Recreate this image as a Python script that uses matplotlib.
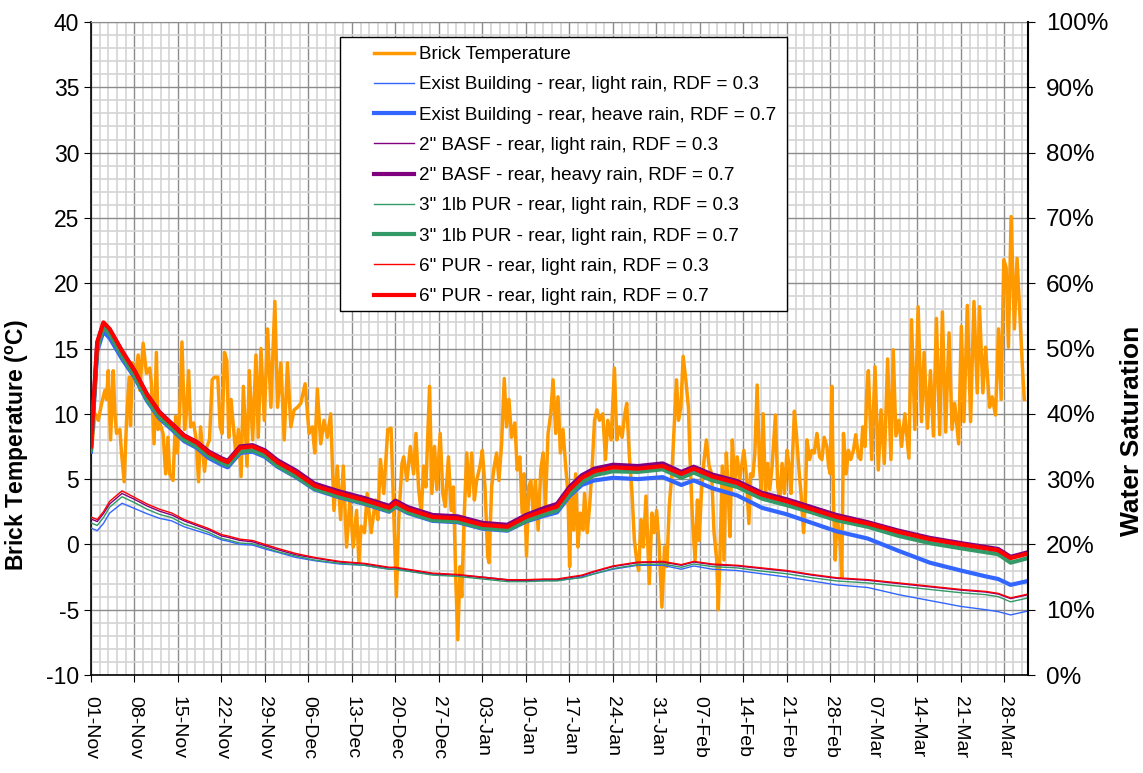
import matplotlib
matplotlib.use("Agg")
import matplotlib.pyplot as plt
from matplotlib.ticker import MultipleLocator, PercentFormatter
from matplotlib.patches import Rectangle

plt.rcParams['font.family'] = ['Liberation Sans', 'DejaVu Sans']
plt.rcParams['axes.unicode_minus'] = False

# --- data (x = days since 01-Nov) ---
week_days = [0, 7, 14, 21, 28, 35, 42, 49, 56, 63, 70, 77, 84, 91, 98, 105, 112, 119, 126, 133, 140, 147]
week_labels = ['01-Nov', '08-Nov', '15-Nov', '22-Nov', '29-Nov', '06-Dec', '13-Dec', '20-Dec', '27-Dec',
               '03-Jan', '10-Jan', '17-Jan', '24-Jan', '31-Jan', '07-Feb', '14-Feb', '21-Feb', '28-Feb',
               '07-Mar', '14-Mar', '21-Mar', '28-Mar']

brick_day = [0.11, 0.64, 1.18, 1.71, 2.24, 2.51, 2.78, 3.15, 3.58, 3.85, 4.11, 4.65, 4.91, 5.34, 5.72,
             6.14, 6.36, 6.68, 7.05, 7.59, 7.85, 8.39, 8.92, 9.46, 9.72, 10.15, 10.52, 10.79, 11.06,
             11.59, 12.02, 12.39, 12.66, 13.20, 13.62, 13.89, 14.26, 14.64, 15.06, 15.33, 15.71, 16.03,
             16.51, 16.93, 17.31, 17.63, 18.00, 18.27, 18.64, 19.07, 19.50, 19.87, 20.41, 20.78, 21.10,
             21.48, 21.85, 22.17, 22.54, 22.92, 23.34, 23.72, 24.15, 24.52,
             25.11, 25.48, 26.02, 26.55, 26.92, 27.35, 27.89, 28.42, 28.95, 29.59, 30.02, 30.56, 31.09,
             31.62, 32.16, 32.69, 33.23, 33.76, 34.46, 35.10, 35.63, 36.01, 36.43, 36.97, 37.50, 38.04,
             38.57, 39.10, 39.64, 40.17, 40.60, 41.13, 41.67, 42.20, 42.74, 43.11, 43.48, 44.02, 44.45,
             45.09, 45.78, 46.16, 46.58, 47.12, 47.76, 48.29, 48.72, 49.15, 49.52, 50.05,
             50.32, 50.86, 51.39, 51.92, 52.30, 52.73, 53.15, 53.53, 53.90, 54.49, 54.86, 55.29, 55.66,
             56.20, 56.62, 57.00, 57.53, 57.96, 58.33, 58.71, 59.03, 59.40, 59.67, 60.04, 60.47, 60.85,
             61.27, 61.70, 62.07, 62.61, 62.98, 63.41, 63.84, 64.05, 64.48, 64.90, 65.28, 65.65, 66.08,
             66.51, 66.88, 67.26, 67.68, 68.22, 68.59, 69.02, 69.39, 69.71, 70.09, 70.46, 70.78, 71.16,
             71.53, 71.96, 72.38, 72.76, 73.13, 73.56, 73.99, 74.36,
             74.79, 75.16, 75.54, 75.96, 76.39, 76.76, 77.03, 77.30, 77.67, 77.99, 78.37, 78.74, 79.17,
             79.43, 79.86, 80.24, 80.66, 81.04, 81.41, 81.84, 82.37, 82.80, 83.17, 83.71, 84.24, 84.62,
             85.04, 85.47, 85.85, 86.22, 86.65, 87.07, 87.45, 87.82, 88.14, 88.52, 88.89, 89.32, 89.85,
             90.28, 90.65, 91.03, 91.45, 91.88, 92.31, 92.68, 93.06, 93.48, 93.86, 94.23, 94.55, 94.93,
             95.30, 95.73, 96.15, 96.37, 96.80, 97.22, 97.60, 97.86, 98.29, 98.67, 99.04, 99.47, 99.89,
             100.27, 100.70, 100.96, 101.23, 101.60, 101.87, 102.25, 102.57, 102.83, 103.21, 103.58,
             104.01, 104.38, 104.70, 105.08, 105.45, 105.88, 106.14, 106.52, 106.84, 107.21, 107.59,
             107.85, 108.17, 108.55, 108.92, 109.24, 109.62, 110.15, 110.53, 110.85, 111.22, 111.59,
             112.02, 112.34, 112.66, 113.20, 113.52, 113.89, 114.26, 114.69, 114.96, 115.23, 115.65,
             116.03, 116.40, 116.83, 117.26, 117.63, 118.00, 118.43, 118.70, 118.97, 119.23, 119.50,
             119.77, 120.03, 120.30, 120.57, 120.83, 121.10, 121.53, 121.90, 122.28, 122.70, 123.08,
             123.51, 123.88, 124.20, 124.57, 124.84,
             125.11, 125.64, 126.18, 126.71, 127.14, 127.67, 128.21, 128.74, 129.11, 129.54, 130.02,
             130.45, 130.98, 131.63, 132.05, 132.59, 133.12, 133.66, 134.08, 134.62, 135.10, 135.58,
             136.06, 136.59, 137.02, 137.55, 138.09, 138.57, 139.00, 139.64, 140.07, 140.49, 141.03,
             141.56, 142.10, 142.63, 143.00, 143.54, 143.97, 144.61, 145.03, 145.57, 146.05, 146.48,
             146.90, 147.28, 147.65, 148.08, 148.61, 149.04, 149.57, 149.95, 150.21]
brick_temp = [7.4, 10.0, 9.5, 10.8, 11.8, 11.1, 13.3, 8.0, 13.3, 10.0, 8.5, 8.8, 7.0, 4.8, 9.5,
              12.8, 9.1, 13.9, 12.6, 14.5, 11.8, 15.4, 13.1, 13.5, 12.3, 7.7, 14.7, 8.8, 9.3,
              8.5, 5.4, 8.2, 5.4, 4.9, 9.8, 7.0, 10.0, 15.5, 8.8, 10.0, 13.3, 9.0,
              9.3, 8.0, 4.8, 9.0, 7.0, 5.6, 7.5, 8.0, 12.6, 12.8, 12.8, 9.0, 8.5,
              14.7, 14.1, 8.2, 11.1, 9.0, 6.7, 8.8, 5.2, 12.1,
              6.0, 13.3, 8.0, 14.5, 8.2, 15.0, 9.5, 16.5, 10.5, 18.6, 10.5, 13.9, 8.0,
              13.9, 9.0, 10.3, 10.5, 10.8, 12.3, 8.5, 9.0, 7.0, 11.9, 7.7, 9.5, 8.2,
              10.0, 2.6, 6.0, 1.9, 6.0, -0.2, 3.4, -0.2, 2.6, -1.4, 1.4, 0.9, 3.9,
              0.9, 3.4, 1.9, 6.5, 3.9, 8.8, 8.9, 2.4, -4.0, 1.9, 6.2,
              6.7, 4.9, 7.5, 5.4, 8.5, 4.2, 2.4, 6.0, 4.4, 12.1, 3.9, 7.5, 4.2,
              8.5, 3.9, 2.9, 6.7, 2.6, 4.4, -2.7, -7.3, -1.7, -4.0, 1.9, 7.0, 3.7,
              7.0, 3.4, 4.9, 6.0, 7.2, 4.4, -0.9, -1.4, 4.4, 6.0, 7.0, 4.9, 7.7,
              12.7, 9.0, 11.1, 8.2, 9.3, 5.7, 6.7, 2.4, 5.4, -0.9, 4.4, 4.9, 2.4,
              4.9, 1.1, 5.7, 7.0, 2.9, 8.5, 10.0, 12.6,
              8.5, 11.3, 7.0, 8.8, 6.0, 3.9, -1.7, 4.4, 1.1, 5.4, -0.2, 2.4, 1.1,
              3.9, 0.9, 2.9, 6.0, 9.5, 10.3, 9.5, 10.0, 6.5, 9.5, 8.0, 13.5, 8.0,
              9.0, 8.2, 9.8, 10.8, 6.7, 3.9, 0.3, -1.2, -2.0, 1.9, -0.2, 3.7, -3.0,
              2.4, 0.9, 2.6, -0.2, -4.8, -0.2, -1.7, 2.9, 5.4, 9.0, 12.6, 9.5, 10.5,
              14.4, 12.6, 10.5, 7.0, 1.9, -1.2, 3.4, 0.3, 4.4, 6.5, 8.0, 6.0, 5.4,
              0.9, -1.2, -5.0, -0.7, 6.0, -1.2, 7.0, 3.9, 0.6, 8.0, 4.7,
              6.7, 4.9, 6.0, 7.2, 5.4, 1.6, 5.4, 5.2, 7.0, 12.2, 6.0,
              4.2, 10.0, 3.9, 6.2, 4.2, 6.0, 9.9, 4.4, 3.4, 6.2, 3.9,
              7.2, 6.0, 3.9, 10.2, 8.5, 6.0, 3.9, 0.9, 3.4, 8.0, 6.5,
              7.2, 7.0, 8.5, 6.7, 6.5, 8.2, 7.5, 6.0, 5.4, 12.1, 3.2,
              -1.2, 1.9, 1.4, 0.1, -2.5, 8.5, 5.4, 7.2, 6.5, 7.2, 8.4,
              6.7, 6.5, 9.0, 7.5, 11.6,
              13.3, 6.5, 13.6, 5.7, 10.3, 6.2, 14.2, 6.5, 14.9, 8.3, 9.5,
              7.5, 10.0, 6.6, 17.2, 8.8, 18.2, 9.4, 14.7, 8.9, 13.3, 8.3,
              17.3, 8.4, 17.8, 8.6, 16.2, 8.8, 10.8, 7.7, 16.7, 9.4, 18.3,
              9.4, 18.6, 11.6, 18.2, 11.6, 15.1, 10.5, 11.3, 9.9, 16.5, 11.1,
              21.8, 21.2, 15.1, 25.1, 16.5, 21.9, 16.7, 13.1, 11.1]

# water saturation (%), right axis
sat_day = [0, 1, 2, 3, 5, 7, 9, 11, 13, 15, 17, 19, 21, 22, 24, 26, 28, 30, 33, 36, 40, 44, 48, 49,
           51, 55, 59, 63, 67, 70, 73, 75, 77, 79, 81, 84, 88, 92, 95, 97, 100, 104, 108, 112, 116,
           120, 125, 130, 135, 140, 144, 146, 148, 150.8]

exist_light = [22.5, 22.1, 23.2, 24.8, 26.3, 25.5, 24.7, 24.0, 23.6, 22.7, 22.1, 21.5, 20.7, 20.5,
               20.0, 19.9, 19.3, 18.8, 18.0, 17.5, 17.0, 16.8, 16.2, 16.2, 15.9, 15.4, 15.3, 15.0,
               14.6, 14.5, 14.5, 14.5, 14.7, 15.0, 15.5, 16.2, 16.8, 16.8, 16.2, 16.7, 16.2, 16.0,
               15.5, 15.0, 14.4, 13.8, 13.4, 12.3, 11.4, 10.5, 10.0, 9.7, 9.2, 9.8]
exist_heavy = [34.2, 49.6, 52.6, 51.6, 48.4, 45.6, 42.0, 39.3, 37.6, 35.8, 34.8, 33.2, 32.2, 31.8,
               34.0, 34.2, 33.4, 31.9, 30.3, 28.4, 27.2, 26.2, 25.0, 25.8, 24.8, 23.6, 23.4, 22.4,
               22.1, 23.5, 24.4, 24.9, 27.4, 29.1, 29.8, 30.2, 30.0, 30.3, 29.1, 29.8, 28.6, 27.5,
               25.6, 24.6, 23.3, 22.0, 20.9, 19.0, 17.2, 16.0, 15.1, 14.7, 13.8, 14.4]
basf_light = [23.9, 23.5, 24.7, 26.2, 27.8, 26.9, 25.9, 25.1, 24.5, 23.6, 22.9, 22.2, 21.3, 21.1,
              20.6, 20.4, 19.8, 19.2, 18.4, 17.9, 17.3, 17.0, 16.4, 16.4, 16.1, 15.5, 15.3, 14.9,
              14.5, 14.5, 14.6, 14.6, 14.9, 15.2, 15.8, 16.6, 17.2, 17.3, 16.8, 17.3, 16.9, 16.7,
              16.3, 15.9, 15.3, 14.8, 14.5, 14.0, 13.5, 13.0, 12.7, 12.4, 11.7, 12.3]
basf_heavy = [35.0, 50.8, 53.8, 52.9, 49.6, 46.6, 43.0, 40.3, 38.5, 36.7, 35.7, 34.2, 33.2, 32.8,
              35.0, 35.2, 34.4, 32.9, 31.3, 29.3, 28.1, 27.1, 25.9, 26.7, 25.7, 24.5, 24.3, 23.3,
              23.0, 24.5, 25.6, 26.2, 28.8, 30.6, 31.6, 32.2, 32.0, 32.4, 31.1, 31.9, 30.7, 29.7,
              27.9, 26.9, 25.7, 24.5, 23.4, 22.1, 21.0, 20.2, 19.6, 19.3, 18.1, 18.8]
pur3_light = [23.3, 22.9, 24.1, 25.7, 27.3, 26.4, 25.4, 24.6, 24.1, 23.1, 22.5, 21.8, 20.9, 20.7,
              20.2, 20.1, 19.5, 18.9, 18.2, 17.6, 17.1, 16.8, 16.2, 16.2, 15.9, 15.3, 15.1, 14.7,
              14.3, 14.3, 14.4, 14.4, 14.7, 14.9, 15.5, 16.3, 16.9, 17.0, 16.5, 17.0, 16.6, 16.4,
              15.9, 15.5, 14.9, 14.4, 14.1, 13.6, 13.1, 12.6, 12.3, 12.0, 11.2, 11.8]
pur3_heavy = [34.5, 50.0, 53.2, 52.2, 48.8, 45.8, 42.2, 39.5, 37.8, 36.0, 35.0, 33.5, 32.5, 32.1,
              34.2, 34.4, 33.6, 32.0, 30.4, 28.5, 27.3, 26.3, 25.1, 25.9, 24.9, 23.7, 23.5, 22.5,
              22.2, 23.6, 24.6, 25.2, 27.6, 29.5, 30.6, 31.2, 31.1, 31.5, 30.2, 31.0, 29.8, 28.8,
              27.0, 26.0, 24.9, 23.7, 22.7, 21.3, 20.2, 19.4, 18.8, 18.5, 17.2, 17.9]
pur6_light = [24.2, 23.8, 25.0, 26.6, 28.2, 27.2, 26.2, 25.4, 24.8, 23.8, 23.1, 22.4, 21.5, 21.3,
              20.8, 20.6, 20.0, 19.4, 18.6, 18.0, 17.4, 17.1, 16.5, 16.5, 16.2, 15.6, 15.4, 15.0,
              14.6, 14.6, 14.7, 14.7, 15.0, 15.3, 15.9, 16.7, 17.3, 17.4, 16.9, 17.4, 17.0, 16.8,
              16.4, 16.0, 15.4, 14.9, 14.6, 14.1, 13.6, 13.1, 12.8, 12.5, 11.8, 12.4]
pur6_heavy = [35.0, 51.0, 54.0, 53.0, 49.6, 46.6, 43.0, 40.2, 38.4, 36.6, 35.6, 34.0, 33.0, 32.6,
              34.8, 35.0, 34.2, 32.6, 31.0, 29.0, 27.8, 26.8, 25.6, 26.4, 25.4, 24.2, 24.0, 23.0,
              22.7, 24.2, 25.2, 25.8, 28.4, 30.2, 31.2, 31.8, 31.6, 32.0, 30.8, 31.6, 30.4, 29.4,
              27.6, 26.6, 25.4, 24.2, 23.2, 21.9, 20.8, 20.0, 19.4, 19.1, 17.9, 18.6]

series = [
    ('Exist Building - rear, light rain, RDF = 0.3', exist_light, '#3366FF', 1.0),
    ('Exist Building - rear, heave rain, RDF = 0.7', exist_heavy, '#3366FF', 3.0),
    ('2" BASF - rear, light rain, RDF = 0.3', basf_light, '#800080', 1.0),
    ('2" BASF - rear, heavy rain, RDF = 0.7', basf_heavy, '#800080', 3.0),
    ('3" 1lb PUR - rear, light rain, RDF = 0.3', pur3_light, '#339966', 1.0),
    ('3" 1lb PUR - rear, light rain, RDF = 0.7', pur3_heavy, '#339966', 3.0),
    ('6" PUR - rear, light rain, RDF = 0.3', pur6_light, '#FF0000', 1.0),
    ('6" PUR - rear, light rain, RDF = 0.7', pur6_heavy, '#FF0000', 3.0),
]

fig = plt.figure(figsize=(11.43, 7.73), dpi=100)
ax = fig.add_axes([91 / 1143, 1 - 675 / 773, 937 / 1143, 653 / 773])

ax.set_xlim(0, 150.8)
ax.set_ylim(-10, 40)
ax.xaxis.set_minor_locator(MultipleLocator(1.4))
ax.yaxis.set_major_locator(MultipleLocator(5))
ax.yaxis.set_minor_locator(MultipleLocator(1))
ax.set_xticks(week_days)
ax.set_xticklabels(week_labels, rotation=270, fontsize=14)
ax.tick_params(axis='x', pad=10)
ax.tick_params(axis='y', labelsize=16.5)
ax.tick_params(which='major', direction='out', length=5, color='black')
ax.tick_params(which='minor', length=0)
ax.grid(which='minor', color='#d4d4d4', linewidth=1.2)
ax.grid(which='major', color='#8c8c8c', linewidth=1.0)
ax.set_axisbelow(True)
for s in ['left', 'bottom']:
    ax.spines[s].set_color('black')
    ax.spines[s].set_linewidth(1.2)
ax.spines['top'].set_color('#8c8c8c')
ax.spines['right'].set_visible(False)

brick_line, = ax.plot(brick_day, brick_temp, color='#FF9900', linewidth=2.5, label='Brick Temperature')
ax.set_ylabel('Brick Temperature ($^{\\mathregular{o}}$C)', fontsize=16.5, fontweight='bold')
ax.yaxis.set_label_coords(-0.064, 0.352)

ax2 = ax.twinx()
ax2.set_ylim(0, 100)
ax2.yaxis.set_major_locator(MultipleLocator(10))
ax2.yaxis.set_major_formatter(PercentFormatter(decimals=0))
ax2.tick_params(axis='y', labelsize=17.5, direction='out', length=5, pad=8)
ax2.spines['right'].set_color('black')
ax2.spines['right'].set_linewidth(1.5)
for s in ['left', 'top', 'bottom']:
    ax2.spines[s].set_visible(False)

handles = [brick_line]
for name, vals, col, lw in series:
    h, = ax2.plot(sat_day, vals, color=col, linewidth=lw, label=name)
    handles.append(h)

ax2.set_ylabel('Water Saturation', fontsize=19, fontweight='bold')
ax2.yaxis.set_label_coords(1.098, 0.374)

# legend box
x0, x1 = (340 - 91) / 937, (787 - 91) / 937
y0, y1 = (675 - 311) / 653, (675 - 37) / 653
box = Rectangle((x0, y0), x1 - x0, y1 - y0, transform=ax2.transAxes, facecolor='white',
                edgecolor='black', linewidth=1.0, zorder=10)
ax2.add_patch(box)
leg = ax2.legend(handles=handles, loc='upper left', bbox_to_anchor=((374 - 91) / 937, (675 - 46) / 653),
                 frameon=False, fontsize=13.6, borderpad=0, borderaxespad=0, handlelength=2.1,
                 handletextpad=0.3, labelspacing=0.69)
leg.set_zorder(11)

fig.savefig('out.png', dpi=100)
